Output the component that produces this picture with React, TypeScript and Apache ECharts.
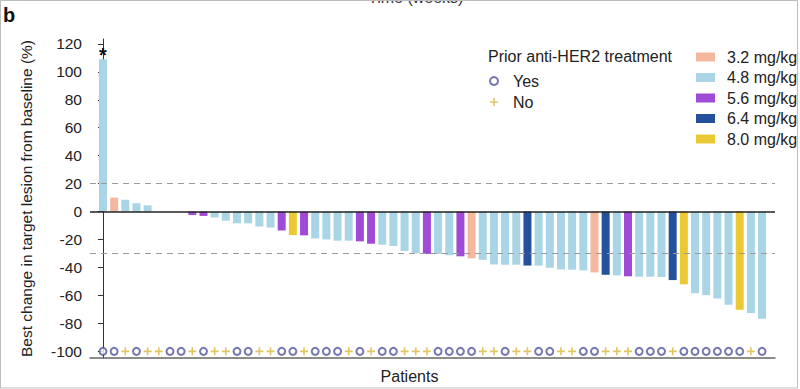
import React, { useEffect, useRef } from "react";
import * as echarts from "echarts";

// Best change in target lesion per patient (%), sorted as in the waterfall
const changes = [109, 10, 8.5, 6, 4.5, 0, 0, 0, -2.4, -3.1, -4.2, -6.5, -8.4, -8.4, -10.6, -11.4, -13.5, -16.8, -17, -19.2, -19.9, -20.8, -20.8, -21.3, -23, -23.7, -24.6, -28.2, -29.8, -30.3, -30.3, -31.2, -32, -33.4, -34.5, -37.8, -38, -38, -38.6, -38.6, -40.2, -41.4, -41.6, -42.1, -43.5, -45.2, -45.6, -46.3, -46.6, -46.6, -46.8, -49, -52, -58.4, -59.8, -62.2, -66.7, -70.2, -72.6, -76.6];

const doses = ["4.8", "3.2", "4.8", "4.8", "4.8", "4.8", "4.8", "4.8", "5.6", "5.6",
  "4.8", "4.8", "4.8", "4.8", "4.8", "4.8", "5.6", "8.0", "5.6", "4.8",
  "4.8", "4.8", "4.8", "5.6", "5.6", "4.8", "4.8", "4.8", "4.8", "5.6",
  "4.8", "4.8", "5.6", "3.2", "4.8", "4.8", "4.8", "4.8", "6.4", "4.8",
  "4.8", "4.8", "4.8", "4.8", "3.2", "6.4", "4.8", "5.6", "4.8", "4.8",
  "4.8", "6.4", "8.0", "4.8", "4.8", "4.8", "4.8", "8.0", "4.8", "4.8"];

const priorAntiHER2 = ["Yes", "Yes", "No", "Yes", "No", "No", "Yes", "Yes", "No", "Yes",
  "No", "No", "Yes", "Yes", "No", "No", "Yes", "Yes", "No", "Yes",
  "Yes", "Yes", "No", "Yes", "No", "Yes", "Yes", "No", "No", "No",
  "Yes", "Yes", "Yes", "Yes", "No", "No", "Yes", "No", "No", "Yes",
  "Yes", "No", "No", "Yes", "Yes", "No", "No", "No", "Yes", "Yes",
  "Yes", "No", "Yes", "Yes", "Yes", "Yes", "Yes", "Yes", "No", "Yes"];

const doseLevels = ["3.2", "4.8", "5.6", "6.4", "8.0"];
const doseColors = ["#f3b89e", "#a9d5e6", "#a04ad8", "#24509c", "#ebc934"];
const yTicks = [-100, -80, -60, -40, -20, 0, 20, 40, 60, 80, 100, 120];
const thresholds = [20, -30];
const markerY = -100;

const FONT = "Liberation Sans, Arial, sans-serif";
const PLUS = "path://M3.2,0H4.8V3.2H8V4.8H4.8V8H3.2V4.8H0V3.2H3.2Z";

export default function App() {
  const ref = useRef<HTMLDivElement>(null);
  useEffect(() => {
    if (!ref.current) return;
    const chart = echarts.init(ref.current, null, { renderer: "svg" });

    const barSeries = doseLevels.map((d, k) => ({
      name: `${d} mg/kg`,
      type: "bar",
      barWidth: 8,
      barGap: "-100%",
      itemStyle: { color: doseColors[k] },
      data: changes
        .map((v, i) => ({ v, i }))
        .filter(({ i }) => doses[i] === d)
        .map(({ v, i }) =>
          i === 0
            ? {
                value: [i, v],
                label: {
                  show: true,
                  position: "top",
                  formatter: "*",
                  distance: -6,
                  fontSize: 20,
                  fontWeight: "bold",
                  color: "#111",
                  fontFamily: FONT,
                },
              }
            : { value: [i, v] }
        ),
      z: 2,
    }));

    const option: any = {
      animation: false,
      backgroundColor: "#fff",
      textStyle: { fontFamily: FONT },
      title: [
        {
          text: "b",
          left: 3,
          top: 5,
          padding: 0,
          textStyle: { fontSize: 20, fontWeight: "bold", color: "#111", fontFamily: FONT },
        },
        {
          text: "Prior anti-HER2 treatment",
          left: 488,
          top: 48,
          padding: 0,
          textStyle: { fontSize: 16, fontWeight: "normal", color: "#222", fontFamily: FONT },
        },
      ],
      graphic: [
        {
          type: "text",
          left: 368,
          top: -11,
          style: { text: "Time (weeks)", fontSize: 16, fill: "#333", fontFamily: FONT },
        },
        {
          type: "rect",
          shape: { x: 0.5, y: 0.5, width: 797, height: 387.5 },
          style: { fill: "none", stroke: "#bdbdbd", lineWidth: 1 },
          z: 100,
        },
      ],
      legend: [
        {
          data: doseLevels.map((d) => `${d} mg/kg`),
          orient: "vertical",
          left: 696,
          top: 49,
          padding: 0,
          itemWidth: 19,
          itemHeight: 9,
          itemGap: 4.5,
          selectedMode: false,
          icon: "rect",
          textStyle: { fontSize: 16, lineHeight: 16, color: "#222", fontFamily: FONT, padding: [0, 0, 0, 7] },
        },
        {
          data: ["Yes", "No"],
          orient: "vertical",
          left: 489,
          top: 73,
          padding: 0,
          itemWidth: 8,
          itemHeight: 8,
          itemGap: 5,
          selectedMode: false,
          textStyle: { fontSize: 16, lineHeight: 16, color: "#222", fontFamily: FONT, padding: [0, 0, 0, 10] },
        },
      ],
      grid: { left: 90, right: 25, top: 39, bottom: 28 },
      xAxis: {
        type: "value",
        min: -1.16,
        max: 60.16,
        name: "Patients",
        nameLocation: "middle",
        nameGap: 10,
        nameTextStyle: { fontSize: 16, color: "#222", fontFamily: FONT, padding: [0, 46, 0, 0], verticalAlign: "top" },
        axisLine: { show: true, onZero: false, lineStyle: { color: "#666", width: 1.5 } },
        axisTick: { show: false },
        axisLabel: { show: false },
        splitLine: { show: false },
      },
      yAxis: {
        type: "value",
        min: -104.75,
        max: 123.5,
        name: "Best change in target lesion from baseline (%)",
        nameLocation: "middle",
        nameGap: 56,
        nameTextStyle: { fontSize: 15.5, color: "#222", fontFamily: FONT },
        axisLine: { show: true, lineStyle: { color: "#333", width: 1 } },
        axisTick: { show: true, length: 5, customValues: yTicks, lineStyle: { color: "#333" } },
        axisLabel: { show: true, customValues: yTicks, fontSize: 15.5, color: "#222", margin: 8, fontFamily: FONT },
        splitLine: { show: false },
      },
      series: [
        ...barSeries,
        {
          name: "refLines",
          type: "line",
          data: [],
          markLine: {
            silent: true,
            symbol: "none",
            label: { show: false },
            data: [
              ...thresholds.map((t) => ({ yAxis: t, lineStyle: { color: "#9a9a9a", type: [6, 5], width: 1 } })),
              { yAxis: 0, lineStyle: { color: "#222", type: "solid", width: 1.5 } },
            ],
          },
        },
        {
          name: "Yes",
          type: "scatter",
          symbol: "emptyCircle",
          symbolSize: 7,
          itemStyle: { color: "#55559f", borderWidth: 1.5 },
          data: priorAntiHER2.map((p, i) => (p === "Yes" ? [i, markerY] : null)).filter((x) => x),
          z: 3,
        },
        {
          name: "No",
          type: "scatter",
          symbol: PLUS,
          symbolSize: 8,
          itemStyle: { color: "#dbb63c" },
          data: priorAntiHER2.map((p, i) => (p === "No" ? [i, markerY] : null)).filter((x) => x),
          z: 3,
        },
      ],
    };
    chart.setOption(option);
    return () => chart.dispose();
  }, []);

  return (
    <div
      ref={ref}
      style={{ position: "absolute", left: 0, top: 0, width: 800, height: 389 }}
    />
  );
}
